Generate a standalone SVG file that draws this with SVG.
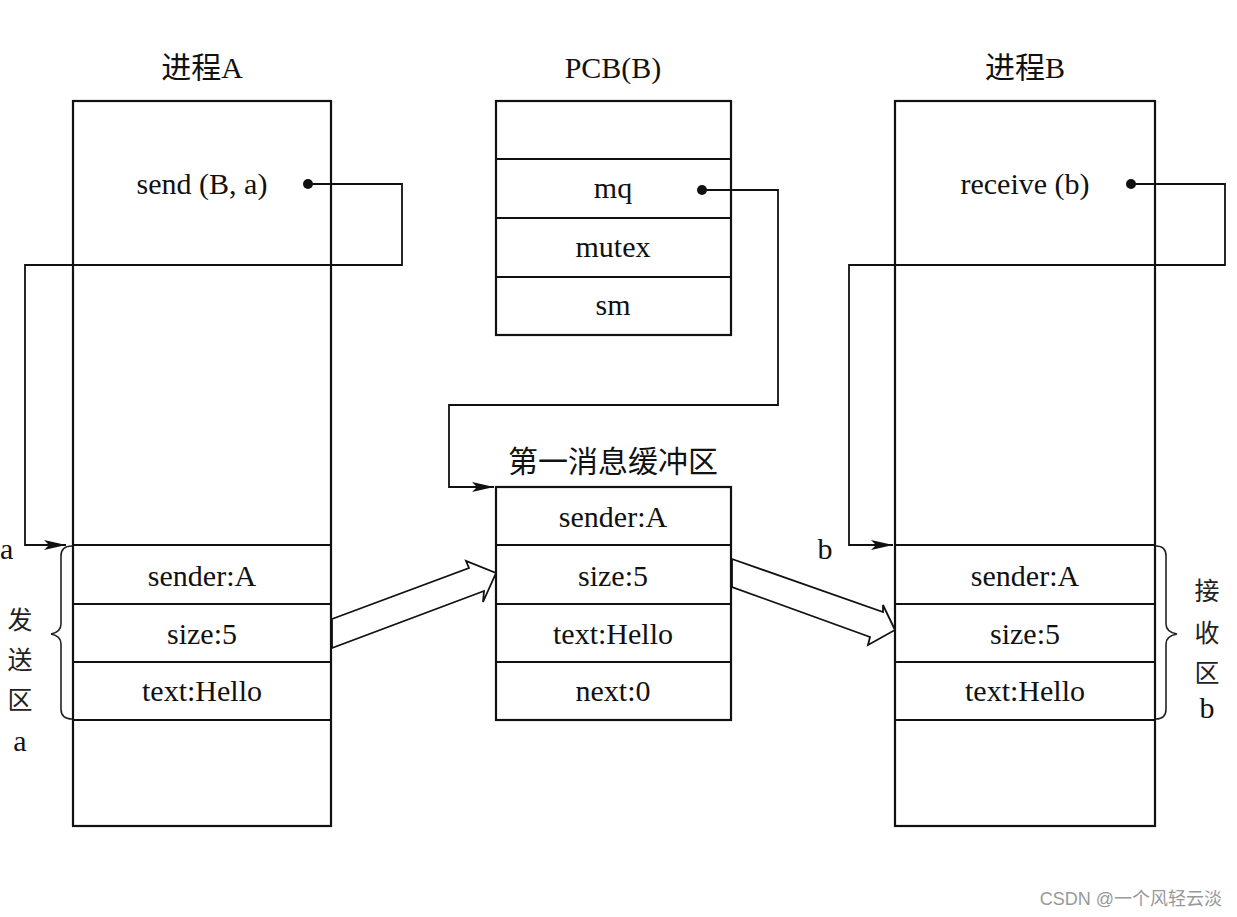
<svg xmlns="http://www.w3.org/2000/svg" width="1237" height="917" viewBox="0 0 1237 917">
<style>
.box{fill:#fff;stroke:#111;stroke-width:2.2}
.div{stroke:#111;stroke-width:2.2}
.t{font-family:"Liberation Serif","Times New Roman",serif;font-size:30px;fill:#111;text-anchor:middle}
.c{font-family:"Liberation Serif","Noto Sans CJK SC",serif;font-size:30px;fill:#111;text-anchor:middle}
.side{font-family:"Noto Sans CJK SC",sans-serif;font-size:25px;fill:#222;text-anchor:middle}
.conn{fill:none;stroke:#111;stroke-width:1.8}
.brace{fill:none;stroke:#222;stroke-width:1.6}
.hollow{fill:#fff;stroke:#111;stroke-width:1.8;stroke-linejoin:miter}
</style>
<defs>
<marker id="ah" markerUnits="userSpaceOnUse" markerWidth="24" markerHeight="12" refX="22" refY="6" orient="auto">
<path d="M0,1 L22,6 L0,11 L5,6 Z" fill="#111"/>
</marker>
</defs>
<rect width="1237" height="917" fill="#fff"/>

<g id="processA">
<text class="c" x="202" y="78">进程A</text>
<rect class="box" x="73" y="101" width="258" height="725"/>
<line class="div" x1="73" y1="545" x2="331" y2="545"/>
<line class="div" x1="73" y1="604" x2="331" y2="604"/>
<line class="div" x1="73" y1="662" x2="331" y2="662"/>
<line class="div" x1="73" y1="720" x2="331" y2="720"/>
<text class="t" x="202" y="194">send (B, a)</text>
<circle cx="308" cy="184" r="5" fill="#111"/>
<text class="t" x="202" y="586">sender:A</text>
<text class="t" x="202" y="644">size:5</text>
<text class="t" x="202" y="701">text:Hello</text>
</g>

<g id="sendArea">
<path class="brace" d="M72,546 Q61,546 61,556 L61,624 Q61,632 51,634 Q61,636 61,644 L61,709 Q61,719 72,719"/>
<text class="t" x="0" y="559" style="text-anchor:start">a</text>
<text class="side" x="20" y="629">发</text>
<text class="side" x="20" y="669">送</text>
<text class="side" x="20" y="709">区</text>
<text class="t" x="20" y="751">a</text>
</g>

<g id="pcbB">
<text class="t" x="613" y="78">PCB(B)</text>
<rect class="box" x="496" y="101" width="235" height="234"/>
<line class="div" x1="496" y1="159" x2="731" y2="159"/>
<line class="div" x1="496" y1="218" x2="731" y2="218"/>
<line class="div" x1="496" y1="277" x2="731" y2="277"/>
<text class="t" x="613" y="198">mq</text>
<circle cx="702" cy="190" r="5" fill="#111"/>
<text class="t" x="613" y="257">mutex</text>
<text class="t" x="613" y="315">sm</text>
</g>

<g id="buffer">
<text class="c" x="613" y="472">第一消息缓冲区</text>
<rect class="box" x="496" y="487" width="235" height="233"/>
<line class="div" x1="496" y1="545" x2="731" y2="545"/>
<line class="div" x1="496" y1="604" x2="731" y2="604"/>
<line class="div" x1="496" y1="662" x2="731" y2="662"/>
<text class="t" x="613" y="527">sender:A</text>
<text class="t" x="613" y="586">size:5</text>
<text class="t" x="613" y="644">text:Hello</text>
<text class="t" x="613" y="701">next:0</text>
</g>

<g id="processB">
<text class="c" x="1025" y="78">进程B</text>
<rect class="box" x="895" y="101" width="260" height="725"/>
<line class="div" x1="895" y1="545" x2="1155" y2="545"/>
<line class="div" x1="895" y1="604" x2="1155" y2="604"/>
<line class="div" x1="895" y1="662" x2="1155" y2="662"/>
<line class="div" x1="895" y1="720" x2="1155" y2="720"/>
<text class="t" x="1025" y="194">receive (b)</text>
<circle cx="1131" cy="184" r="5" fill="#111"/>
<text class="t" x="1025" y="586">sender:A</text>
<text class="t" x="1025" y="644">size:5</text>
<text class="t" x="1025" y="701">text:Hello</text>
</g>

<g id="receiveArea">
<path class="brace" d="M1156,546 Q1166,546 1166,556 L1166,624 Q1166,632 1177,634 Q1166,636 1166,644 L1166,709 Q1166,719 1156,719"/>
<text class="t" x="825" y="559">b</text>
<text class="side" x="1207" y="600">接</text>
<text class="side" x="1207" y="642">收</text>
<text class="side" x="1207" y="682">区</text>
<text class="t" x="1207" y="718">b</text>
</g>

<g id="connectors">
<polyline class="conn" points="308,184 402,184 402,265 25,265 25,545 66,545" marker-end="url(#ah)"/>
<polyline class="conn" points="702,190 778,190 778,405 449,405 449,487 494,487" marker-end="url(#ah)"/>
<polyline class="conn" points="1131,184 1225,184 1225,265 849,265 849,545 893,545" marker-end="url(#ah)"/>
<polygon class="hollow" points="332,619 469,568 466,561 496,573 483,602 484,591 332,648"/>
<polygon class="hollow" points="732,559 883,612 883,605 895,630 868,645 870,637 732,587"/>
</g>

<text x="1222" y="905" font-family="'Liberation Sans','Noto Sans CJK SC',sans-serif" font-size="18" fill="#999" text-anchor="end">CSDN @一个风轻云淡</text>
</svg>
